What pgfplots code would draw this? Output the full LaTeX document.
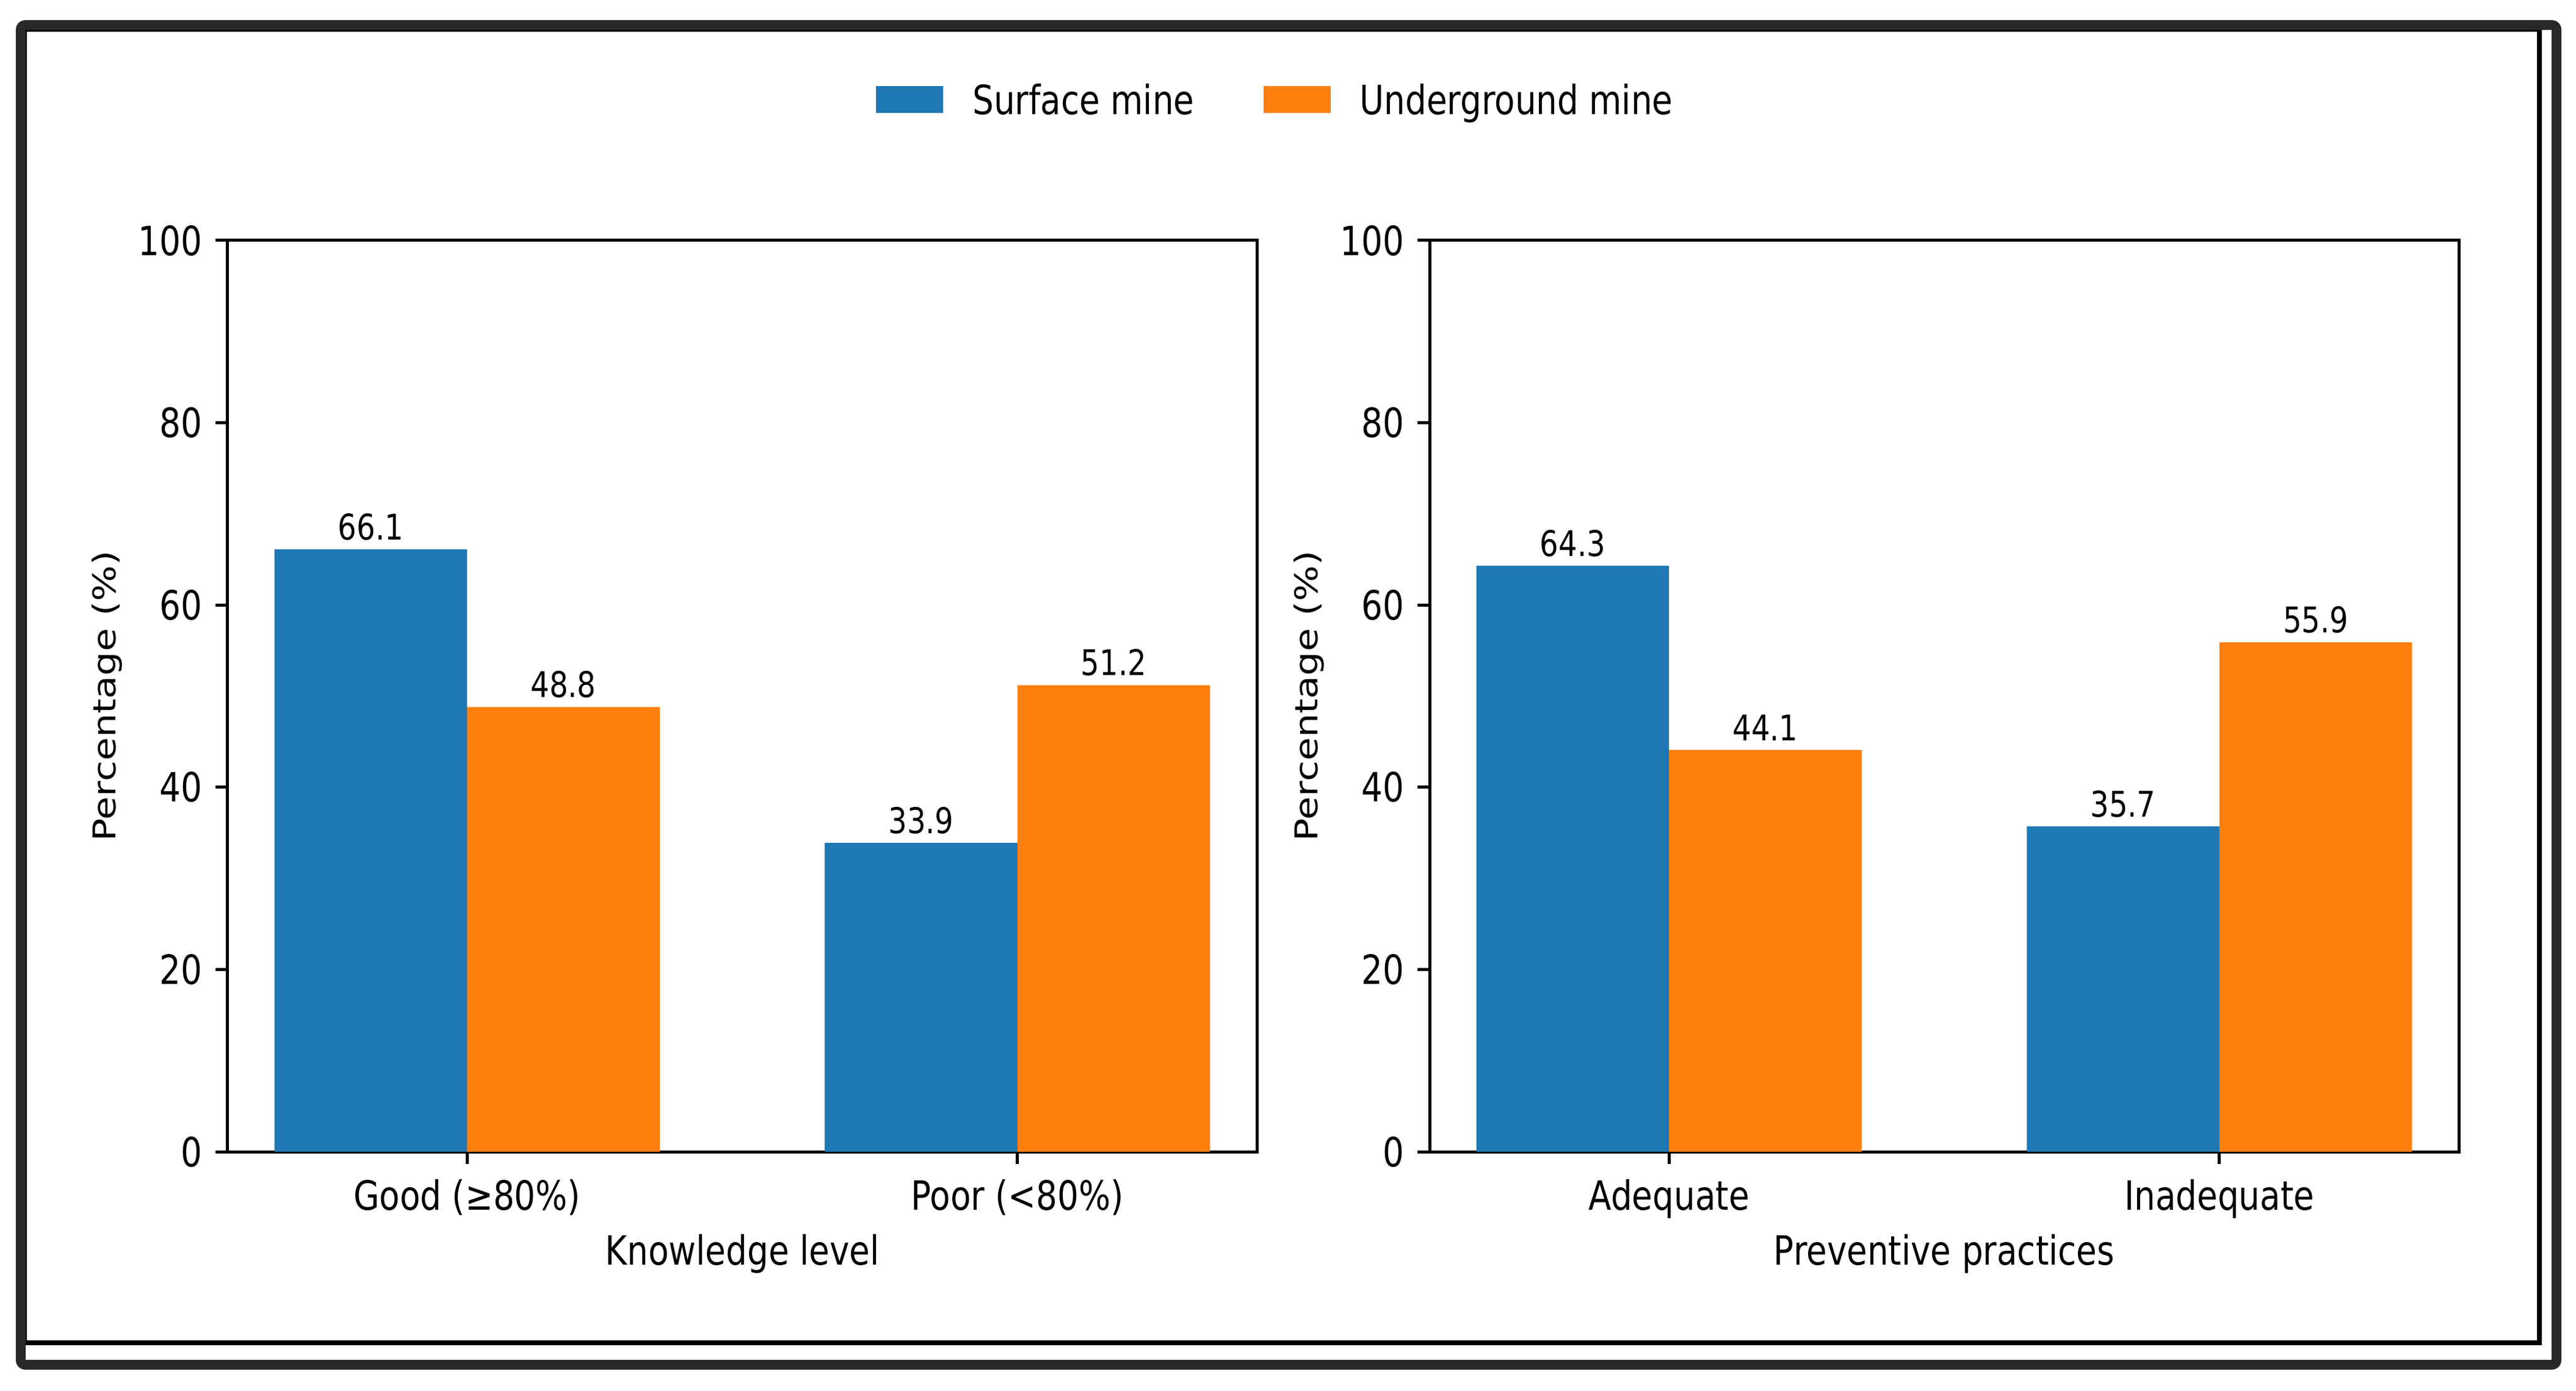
\documentclass[border=0pt]{standalone}
\usepackage{fontspec}
\setmainfont{DejaVu Sans}[FakeStretch=0.83]
\newfontfamily\plainfont{DejaVu Sans}
\usepackage{graphicx}
\usepackage{pgfplots}
\pgfplotsset{compat=1.18}
\definecolor{mplblue}{HTML}{1F77B4}
\definecolor{mplorange}{HTML}{FF7F0E}
\definecolor{framegray}{HTML}{282828}
\newcommand{\bigf}{\fontsize{13.2}{15}\selectfont}
\newcommand{\smallf}{\fontsize{11.6}{13}\selectfont}
\newcommand{\ylabf}{\plainfont\fontsize{12.4}{14}\selectfont}
\pgfplotsset{
  panel/.style={
    scale only axis, width=337.2pt, height=298.6pt,
    anchor=south west,
    xmin=-0.435, xmax=1.435, ymin=0, ymax=100,
    ytick={0,20,40,60,80,100}, xtick={0,1},
    tick align=outside, tick pos=left, major tick length=4pt,
    tick style={black, line width=1pt},
    axis line style={black, line width=1pt},
    /pgf/number format/assume math mode=true,
    ticklabel style={font=\bigf},
    yticklabel style={anchor=east, inner sep=0pt, xshift=-4.2pt},
    xticklabel style={anchor=base, inner sep=0pt, yshift=-15pt},
    label style={font=\bigf},
    xlabel style={at={(axis description cs:0.5,0)}, anchor=base, yshift=-37pt, inner sep=0pt},
    ylabel style={at={(axis description cs:-0.1174,0.5)}, anchor=center, inner sep=0pt},
    nodes near coords={\pgfmathprintnumber[fixed,fixed zerofill,precision=1,assume math mode=true]{\pgfplotspointmeta}},
    nodes near coords style={font=\smallf, anchor=south, inner sep=0pt, yshift=2.8pt},
    ylabel={\scalebox{1}[0.83]{\ylabf Percentage (\%)}},
  },
  barS/.style={ybar, bar width=0.35, bar shift=0pt, draw=none, fill=mplblue},
  barU/.style={ybar, bar width=0.35, bar shift=0pt, draw=none, fill=mplorange},
}
\begin{document}
\begin{tikzpicture}
\useasboundingbox (0,0) rectangle (844pt,455.6pt);
\fill[white] (0,0) rectangle (844pt,455.6pt);
\begin{axis}[panel, at={(74.6pt,78.2pt)},
  xticklabels={Good (≥80\%), Poor (<80\%)},
  xlabel={Knowledge level},
  legend style={at={(1.0172,1.1529)}, anchor=center, draw=none, fill=none, inner sep=0pt,
    font=\bigf, nodes={inner sep=0pt},
    /tikz/every odd column/.append style={column sep=9.6pt},
    /tikz/every even column/.append style={column sep=22.6pt}},
  legend columns=2,
  legend image code/.code={\fill[#1] (0pt,-3.89pt) rectangle (22pt,4.91pt);},
]
\addplot[barS] coordinates {(-0.175,66.1) (0.825,33.9)};
\addplot[barU] coordinates {(0.175,48.8) (1.175,51.2)};
\legend{Surface mine, Underground mine}
\end{axis}
\begin{axis}[panel, at={(468.4pt,78.2pt)},
  xticklabels={Adequate, Inadequate},
  xlabel={Preventive practices},
]
\addplot[barS] coordinates {(-0.175,64.3) (0.825,35.7)};
\addplot[barU] coordinates {(0.175,44.1) (1.175,55.9)};
\end{axis}
\draw[black, line width=1.5pt] (8pt,15.6pt) rectangle (832pt,446pt);
\draw[framegray, line width=3.2pt, rounded corners=1.5pt] (6.8pt,8.4pt) rectangle (837.6pt,447.4pt);
\end{tikzpicture}
\end{document}
